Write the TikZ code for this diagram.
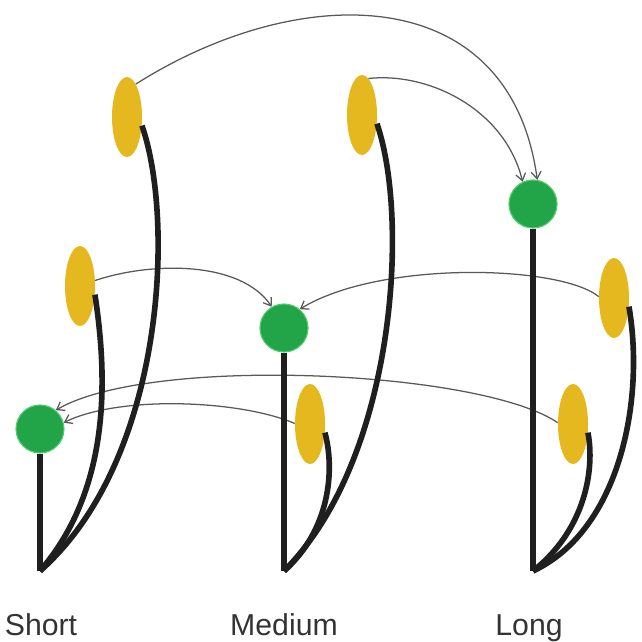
\documentclass[tikz,border=0pt]{standalone}
\usepackage{fontspec}
\setmainfont{Liberation Sans}
\usepackage{tikz}
\usetikzlibrary{arrows.meta,shapes.geometric,positioning}
\definecolor{seedyellow}{RGB}{229,184,32}
\definecolor{hubgreen}{RGB}{34,165,72}
\definecolor{hubrim}{RGB}{80,205,110}
\tikzset{
	>={Straight Barb[length=5pt,width=7pt]},
	seed/.style = {
			ellipse,
			fill           = seedyellow,
			minimum width  = 0.75cm,
			minimum height = 2cm,
			inner sep      = 0pt,
		},
	hub/.style = {
			circle,
			fill         = hubgreen,
			draw         = hubrim,
			line width   = 0.8pt,
			minimum size = 1.2cm,
			inner sep    = 0pt,
		},
	stem/.style = {line width=4pt, draw=black!88, line join=round},
	link/.style = {->, draw=black!65, line width=0.9pt},
	tag/.style = {anchor=base, text=black!80, font=\fontsize{21.5}{24}\selectfont},
}

\begin{document}
\begin{tikzpicture}[x=0.025cm,y=-0.025cm]
        \useasboundingbox (0,0) rectangle (642,642);
        \node[seed] at (127,117) (s1) {};
        \node[seed] at (362,115) (s2) {};
        \node[seed] at (80,286) (s3) {};
        \node[seed] at (614,298) (s4) {};
        \node[seed] at (310,424) (s5) {};
        \node[seed] at (573,424) (s6) {};
        \node[hub] at (40,429) (hs) {};
        \node[hub] at (284,328) (hm) {};
        \node[hub] at (533,204) (hl) {};
        \coordinate (bs) at (40,571);
        \coordinate (bm) at (284,571);
        \coordinate (bl) at (533,571);
        \node[tag] at (41,635) (ts) {Short};
        \node[tag] at (284,635) (tm) {Medium};
        \node[tag] at (529,635) (tl) {Long};
        \draw[link] (s1.75) .. controls (300,-20) and (510,-20) .. (hl.80);
        \draw[link] (s2.80) .. controls (430,72) and (505,110) .. (hl.115);
        \draw[link] (s3.20) .. controls (150,262) and (240,260) .. (hm.120);
        \draw[link] (s4.175) .. controls (560,265) and (380,260) .. (hm.50);
        \draw[link] (s6.175) .. controls (480,370) and (150,355) .. (hs.50);
        \draw[link] (s5.178) .. controls (240,400) and (120,395) .. (hs.15);
        \draw[stem] (hs.south) -- (bs);
        \draw[stem] (hm.south) -- (bm);
        \draw[stem] (hl.south) -- (bl);
        \draw[stem] (bs) .. controls (165,460) and (175,220) .. (s1.-30);
        \draw[stem] (bs) .. controls (110,490) and (108,380) .. (s3.-30);
        \draw[stem] (bm) .. controls (395,460) and (410,220) .. (s2.-30);
        \draw[stem] (bm) .. controls (330,530) and (335,470) .. (s5.-30);
        \draw[stem] (bl) .. controls (620,530) and (645,400) .. (s4.-30);
        \draw[stem] (bl) .. controls (585,530) and (595,470) .. (s6.-30);
      \end{tikzpicture}
\end{document}
